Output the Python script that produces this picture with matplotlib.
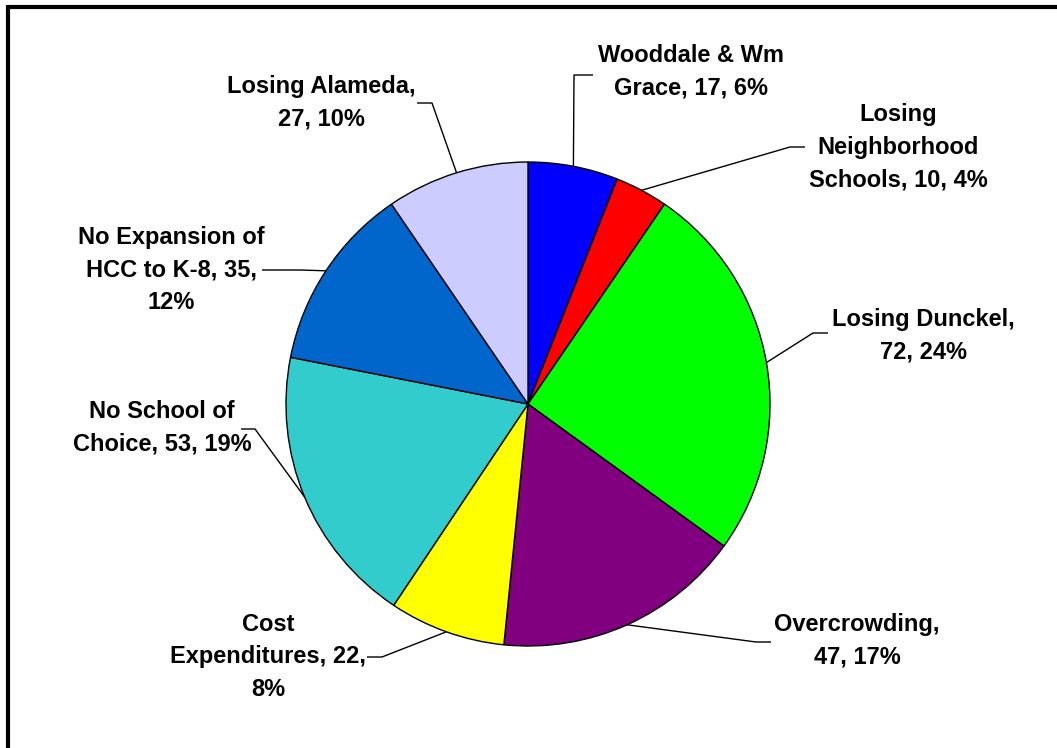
import numpy as np
import matplotlib.pyplot as plt

# data
categories = ["Wooddale & Wm Grace", "Losing Neighborhood Schools", "Losing Dunckel",
              "Overcrowding", "Cost Expenditures", "No School of Choice",
              "No Expansion of HCC to K-8", "Losing Alameda"]
values = [17, 10, 72, 47, 22, 53, 35, 27]
pct_labels = ["6%", "4%", "24%", "17%", "8%", "19%", "12%", "10%"]
colors = ["#0000FF", "#FF0000", "#00FF00", "#800080", "#FFFF00", "#33CCCC", "#0066CC", "#CCCCFF"]

label_text = [
    "Wooddale & Wm\nGrace, 17, 6%",
    "Losing\nNeighborhood\nSchools, 10, 4%",
    "Losing Dunckel,\n72, 24%",
    "Overcrowding,\n47, 17%",
    "Cost\nExpenditures, 22,\n8%",
    "No School of\nChoice, 53, 19%",
    "No Expansion of\nHCC to K-8, 35,\n12%",
    "Losing Alameda,\n27, 10%",
]

W, H = 1057, 748
# layout in pixel coords (y measured from top)
center_px = (528, 404)
radius = 242
text_pos = [(691, 72), (898, 147), (923, 336), (857, 641),
            (268, 657), (162, 428), (171, 270), (321, 103)]
elbows = [[(574, 75), (593, 75)], [(790, 147), (805, 147)], [(813, 333), (828, 333)],
          [(756, 642), (771, 642)], [(382, 657), (367, 657)], [(255, 429), (241, 429)],
          [(300, 270), (262, 270)], [(432, 103), (417, 103)]]

fig = plt.figure(figsize=(W / 100, H / 100), dpi=100)
ax = fig.add_axes([0, 0, 1, 1])

cx, cy = center_px[0], H - center_px[1]
wedges, _ = ax.pie(values, colors=colors, startangle=90, counterclock=False,
                   center=(cx, cy), radius=radius,
                   wedgeprops=dict(edgecolor="black", linewidth=1.0))
ax.set_xlim(0, W)
ax.set_ylim(0, H)
ax.set_aspect("equal")
ax.axis("off")

for w, txt, (tx, ty), pts in zip(wedges, label_text, text_pos, elbows):
    mid = np.deg2rad((w.theta1 + w.theta2) / 2)
    sx, sy = cx + radius * np.cos(mid), cy + radius * np.sin(mid)
    xs = [sx] + [p[0] for p in pts]
    ys = [sy] + [H - p[1] for p in pts]
    ax.plot(xs, ys, color="black", lw=1.0, solid_capstyle="butt")
    ax.text(tx, H - ty, txt, ha="center", va="center", multialignment="center",
            fontsize=17, fontweight="bold", family=["Liberation Sans", "DejaVu Sans"],
            linespacing=1.55)

# chart border (top and left edges visible)
ax.plot([8, W], [H - 7, H - 7], color="black", lw=3.0, solid_capstyle="butt")
ax.plot([8, 8], [H - 5, 0], color="black", lw=3.0, solid_capstyle="butt")

fig.savefig("out.png", dpi=100)
